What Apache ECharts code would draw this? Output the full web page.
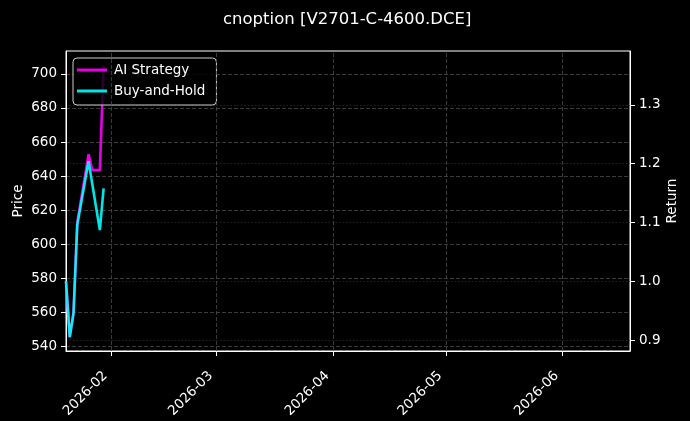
<!DOCTYPE html>
<html>
<head>
<meta charset="utf-8">
<script src="https://cdn.jsdelivr.net/npm/echarts@6/dist/echarts.min.js"></script>
<style>
html,body{margin:0;padding:0;background:#000;}
#chart{width:690px;height:421px;}
</style>
</head>
<body>
<div id="chart"></div>
<script>
const dates = ['2026-01-20','2026-01-21','2026-01-22','2026-01-23','2026-01-26','2026-01-27','2026-01-28','2026-01-29','2026-01-30'];
const aiReturn = [1.000, 0.905, 0.946, 1.100, 1.216, 1.189, 1.189, 1.189, 1.367];
const bhReturn = [1.000, 0.905, 0.946, 1.096, 1.204, 1.165, 1.126, 1.087, 1.158];
const priceTicks = [540, 560, 580, 600, 620, 640, 660, 680, 700];
const returnTicks = [0.9, 1.0, 1.1, 1.2, 1.3];
const monthTicks = ['2026-02-01','2026-03-01','2026-04-01','2026-05-01','2026-06-01'];
const xStart = '2026-01-20';
const xEnd = '2026-06-19';
const priceRange = [537.4, 713.4];
const returnRange = [0.8813, 1.3917];

function ts(s){ const p = s.split('-').map(Number); return Date.UTC(p[0], p[1]-1, p[2]); }
function pad(n){ return (n<10?'0':'')+n; }

const FONT = 'DejaVu Sans';
const chart = echarts.init(document.getElementById('chart'), null, {renderer:'canvas'});
const option = {
  backgroundColor: '#000',
  animation: false,
  textStyle: {fontFamily: FONT, color: '#fff'},
  title: {
    text: 'cnoption [V2701-C-4600.DCE]',
    left: 218, top: 6,
    textStyle: {color:'#fff', fontSize:16.5, fontWeight:'normal', fontFamily: FONT}
  },
  grid: {left:66, right:60, top:51, bottom:70, show:true, borderColor:'#fff', borderWidth:1, backgroundColor:'#000', containLabel:false, outerBoundsMode:'none'},
  legend: {
    orient:'vertical', left:73, top:58,
    backgroundColor:'rgba(0,0,0,0.8)', borderColor:'#cccccc', borderWidth:1, borderRadius:4,
    padding:[5, 11, 7, 4], itemGap:7, itemWidth:30, itemHeight:3, icon:'rect',
    textStyle:{color:'#fff', fontSize:13.5, fontFamily:FONT, padding:[0,0,0,2]},
    data:['AI Strategy','Buy-and-Hold']
  },
  xAxis: {
    type:'value', min: ts(xStart), max: ts(xEnd),
    axisLine:{show:true, lineStyle:{color:'#fff', width:1}},
    axisTick:{show:true, length:5, lineStyle:{color:'#fff'}, customValues: monthTicks.map(ts)},
    axisLabel:{
      customValues: monthTicks.map(ts), rotate:45, margin:17, padding:[0,8,0,0], color:'#fff', fontSize:13.5, fontFamily:FONT,
      formatter: function(v){ const d = new Date(v); return d.getUTCFullYear()+'-'+pad(d.getUTCMonth()+1); }
    },
    splitLine:{show:false}
  },
  yAxis: [
    {
      type:'value', position:'left', min:priceRange[0], max:priceRange[1], minInterval:20, maxInterval:20,
      name:'Price', nameLocation:'middle', nameGap:41, nameRotate:90, nameMoveOverlap:false,
      nameTextStyle:{color:'#fff', fontSize:13.5, fontFamily:FONT},
      axisLine:{show:true, lineStyle:{color:'#fff'}},
      axisTick:{show:true, length:5, lineStyle:{color:'#fff'}, customValues: priceTicks},
      axisLabel:{customValues: priceTicks, margin:9, color:'#fff', fontSize:13.5, fontFamily:FONT},
      splitLine:{show:true, lineStyle:{color:'#4a4a4a', type:[4,2], width:0.8}}
    },
    {
      type:'value', position:'right', min:returnRange[0], max:returnRange[1], minInterval:0.1, maxInterval:0.1,
      name:'Return', nameLocation:'middle', nameGap:35, nameRotate:90, nameMoveOverlap:false,
      nameTextStyle:{color:'#fff', fontSize:13.5, fontFamily:FONT},
      axisLine:{show:true, lineStyle:{color:'#fff'}},
      axisTick:{show:true, length:5, lineStyle:{color:'#fff'}, customValues: returnTicks},
      axisLabel:{customValues: returnTicks, margin:9, color:'#fff', fontSize:13.5, fontFamily:FONT,
        formatter: function(v){ return v.toFixed(1); }},
      splitLine:{show:true, lineStyle:{color:'#2e2e2e', type:[1.5,2], width:0.8}}
    }
  ],
  series: [
    {
      name:'grid', type:'line', data:[], z:1, silent:true,
      markLine:{silent:true, symbol:['none','none'], label:{show:false},
        lineStyle:{color:'#4a4a4a', type:[4,2], width:0.8},
        data: monthTicks.map(m => ({xAxis: ts(m)}))}
    },
    {
      name:'AI Strategy', type:'line', yAxisIndex:1, z:3, symbol:'none',
      data: dates.map((d,i)=>[ts(d), aiReturn[i]]),
      lineStyle:{color:'#ff00ff', width:2.6, opacity:0.9}, itemStyle:{color:'#e600e6'}
    },
    {
      name:'Buy-and-Hold', type:'line', yAxisIndex:1, z:4, symbol:'none',
      data: dates.map((d,i)=>[ts(d), bhReturn[i]]),
      lineStyle:{color:'#00ffff', width:2.6, opacity:0.9}, itemStyle:{color:'#00e6e6'}
    }
  ]
};
chart.setOption(option);
</script>
</body>
</html>
